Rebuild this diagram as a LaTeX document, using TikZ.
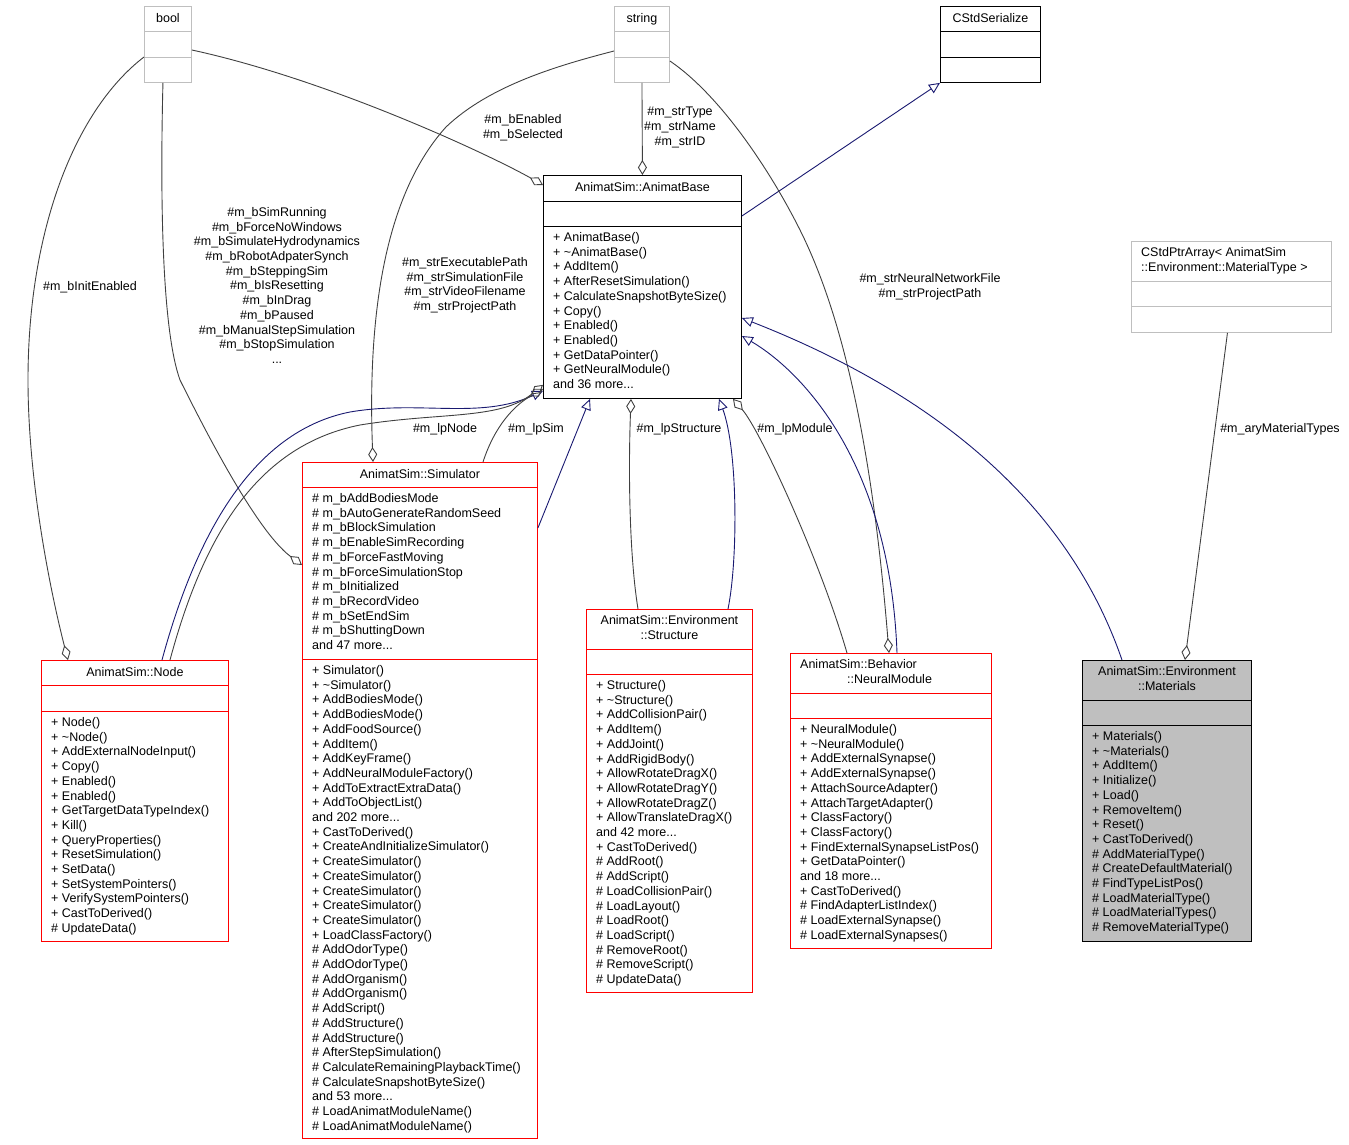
\documentclass[tikz,border=0pt]{standalone}
\usepackage{fontspec}
\newfontfamily\umlfont{Liberation Sans}
\usetikzlibrary{arrows.meta, positioning}
\definecolor{edgegray}{HTML}{404040}
\definecolor{edgeblue}{HTML}{191970}
\definecolor{boxgray}{HTML}{BFBFBF}
\definecolor{boxred}{HTML}{FF0000}
\tikzset{
  classbox/.style={draw=#1, line width=0.9pt, anchor=north west, inner sep=0pt},
  classtext/.style={inner sep=0pt, font=\umlfont\fontsize{12.5}{14.7}\selectfont, execute at begin node=\strut},
  classtitle/.style={classtext, anchor=north, align=center},
  members/.style={classtext, anchor=north west, align=left},
  edgelabel/.style={classtext, anchor=north, align=center},
  usage/.style={draw=edgegray, line width=0.9pt, {Diamond[open, length=15pt, width=9pt]}-},
  inherit/.style={draw=edgeblue, line width=0.9pt, {Triangle[open, length=11pt, width=10pt]}-}
}
\begin{document}
\begin{tikzpicture}[x=1pt, y=-1pt]
\useasboundingbox (0,0) rectangle (1349,1145);

\node (bool) [classbox=boxgray, minimum width=47pt, minimum height=76pt] at (144,6) {};
\node (string) [classbox=boxgray, minimum width=55pt, minimum height=76pt] at (614,6) {};
\node (serial) [classbox=black, minimum width=100pt, minimum height=76pt] at (940,6) {};
\node (base) [classbox=black, minimum width=198pt, minimum height=223pt] at (543,175) {};
\node (ptrarray) [classbox=boxgray, minimum width=200pt, minimum height=91pt] at (1131,241) {};
\node (node) [classbox=boxred, minimum width=187pt, minimum height=281pt] at (41,660) {};
\node (sim) [classbox=boxred, minimum width=235pt, minimum height=676pt] at (302,462) {};
\node (structure) [classbox=boxred, minimum width=166pt, minimum height=383pt] at (586,609) {};
\node (module) [classbox=boxred, minimum width=201pt, minimum height=295pt] at (790,653) {};
\node (materials) [classbox=black, fill=boxgray, minimum width=169pt, minimum height=281pt] at (1082,660) {};

\foreach \cls/\off/\boxcol in {bool/25/boxgray, bool/51/boxgray, string/25/boxgray, string/51/boxgray,
    serial/25/black, serial/51/black, base/26/black, base/51/black, ptrarray/40/boxgray, ptrarray/65/boxgray,
    node/25/boxred, node/51/boxred, sim/25/boxred, sim/197/boxred, structure/40/boxred, structure/65/boxred,
    module/40/boxred, module/65/boxred, materials/40/black, materials/65/black}
  \draw[\boxcol, line width=0.9pt] ([yshift=-\off*1pt]\cls.north west) -- ([yshift=-\off*1pt]\cls.north east);

\node (bool title) [classtitle] at ([yshift=-6.3pt]bool.north) {bool};
\node (string title) [classtitle] at ([yshift=-6.3pt]string.north) {string};
\node (serial title) [classtitle] at ([yshift=-6.3pt]serial.north) {CStdSerialize};
\node (base title) [classtitle] at ([yshift=-6.3pt]base.north) {AnimatSim::AnimatBase};
\node (ptrarray title) [members] at ([shift={(10pt,-6.3pt)}]ptrarray.north west) {CStdPtrArray< AnimatSim\\::Environment::MaterialType >};
\node (node title) [classtitle] at ([yshift=-6.3pt]node.north) {AnimatSim::Node};
\node (sim title) [classtitle] at ([yshift=-6.3pt]sim.north) {AnimatSim::Simulator};
\node (structure title) [classtitle] at ([yshift=-6.3pt]structure.north) {AnimatSim::Environment\\::Structure};
\node (module title) [members] at ([shift={(10pt,-6.3pt)}]module.north west) {AnimatSim::Behavior\\\hspace*{47pt}::NeuralModule};
\node (materials title) [classtitle] at ([yshift=-6.3pt]materials.north) {AnimatSim::Environment\\::Materials};

\node (base ops) [members] at ([shift={(10pt,-57.3pt)}]base.north west) {+ AnimatBase()\\+ \textasciitilde AnimatBase()\\+ AddItem()\\+ AfterResetSimulation()\\+ CalculateSnapshotByteSize()\\+ Copy()\\+ Enabled()\\+ Enabled()\\+ GetDataPointer()\\+ GetNeuralModule()\\and 36 more...};
\node (node ops) [members] at ([shift={(10pt,-57.3pt)}]node.north west) {+ Node()\\+ \textasciitilde Node()\\+ AddExternalNodeInput()\\+ Copy()\\+ Enabled()\\+ Enabled()\\+ GetTargetDataTypeIndex()\\+ Kill()\\+ QueryProperties()\\+ ResetSimulation()\\+ SetData()\\+ SetSystemPointers()\\+ VerifySystemPointers()\\+ CastToDerived()\\\# UpdateData()};
\node (sim attrs) [members] at ([shift={(10pt,-31.3pt)}]sim.north west) {\# m\_bAddBodiesMode\\\# m\_bAutoGenerateRandomSeed\\\# m\_bBlockSimulation\\\# m\_bEnableSimRecording\\\# m\_bForceFastMoving\\\# m\_bForceSimulationStop\\\# m\_bInitialized\\\# m\_bRecordVideo\\\# m\_bSetEndSim\\\# m\_bShuttingDown\\and 47 more...};
\node (sim ops) [members] at ([shift={(10pt,-203.3pt)}]sim.north west) {+ Simulator()\\+ \textasciitilde Simulator()\\+ AddBodiesMode()\\+ AddBodiesMode()\\+ AddFoodSource()\\+ AddItem()\\+ AddKeyFrame()\\+ AddNeuralModuleFactory()\\+ AddToExtractExtraData()\\+ AddToObjectList()\\and 202 more...\\+ CastToDerived()\\+ CreateAndInitializeSimulator()\\+ CreateSimulator()\\+ CreateSimulator()\\+ CreateSimulator()\\+ CreateSimulator()\\+ CreateSimulator()\\+ LoadClassFactory()\\\# AddOdorType()\\\# AddOdorType()\\\# AddOrganism()\\\# AddOrganism()\\\# AddScript()\\\# AddStructure()\\\# AddStructure()\\\# AfterStepSimulation()\\\# CalculateRemainingPlaybackTime()\\\# CalculateSnapshotByteSize()\\and 53 more...\\\# LoadAnimatModuleName()\\\# LoadAnimatModuleName()};
\node (structure ops) [members] at ([shift={(10pt,-71.3pt)}]structure.north west) {+ Structure()\\+ \textasciitilde Structure()\\+ AddCollisionPair()\\+ AddItem()\\+ AddJoint()\\+ AddRigidBody()\\+ AllowRotateDragX()\\+ AllowRotateDragY()\\+ AllowRotateDragZ()\\+ AllowTranslateDragX()\\and 42 more...\\+ CastToDerived()\\\# AddRoot()\\\# AddScript()\\\# LoadCollisionPair()\\\# LoadLayout()\\\# LoadRoot()\\\# LoadScript()\\\# RemoveRoot()\\\# RemoveScript()\\\# UpdateData()};
\node (module ops) [members] at ([shift={(10pt,-71.3pt)}]module.north west) {+ NeuralModule()\\+ \textasciitilde NeuralModule()\\+ AddExternalSynapse()\\+ AddExternalSynapse()\\+ AttachSourceAdapter()\\+ AttachTargetAdapter()\\+ ClassFactory()\\+ ClassFactory()\\+ FindExternalSynapseListPos()\\+ GetDataPointer()\\and 18 more...\\+ CastToDerived()\\\# FindAdapterListIndex()\\\# LoadExternalSynapse()\\\# LoadExternalSynapses()};
\node (materials ops) [members] at ([shift={(10pt,-71.3pt)}]materials.north west) {+ Materials()\\+ \textasciitilde Materials()\\+ AddItem()\\+ Initialize()\\+ Load()\\+ RemoveItem()\\+ Reset()\\+ CastToDerived()\\\# AddMaterialType()\\\# CreateDefaultMaterial()\\\# FindTypeListPos()\\\# LoadMaterialType()\\\# LoadMaterialTypes()\\\# RemoveMaterialType()};

\draw[usage] ([yshift=-10pt]base.north west) .. controls (490,155) and (330,80) .. ([yshift=-44pt]bool.north east);
\draw[usage] (base.north) -- (string.south);
\draw[inherit] (serial.south west) -- ([yshift=-41pt]base.north east);
\draw[usage] ([xshift=27pt]node.north west) .. controls (50,590) and (28,480) .. (28,380) .. controls (28,230) and (75,110) .. ([yshift=-51pt]bool.north west);
\draw[usage] ([yshift=-103pt]sim.north west) .. controls (255,530) and (200,420) .. (180,380) .. controls (162,330) and (160,200) .. ([xshift=-5pt]bool.south);
\draw[usage] ([xshift=71pt]sim.north west) .. controls (368,330) and (380,200) .. (446,127) .. controls (490,85) and (560,65) .. ([yshift=-45pt]string.north west);
\draw[usage] ([xshift=99pt]module.north west) .. controls (875,480) and (850,330) .. (800,230) .. controls (770,170) and (720,95) .. ([yshift=-55pt]string.north east);
\draw[usage] ([xshift=103pt]materials.north west) -- ([xshift=-4pt]ptrarray.south);
\draw[inherit] ([yshift=8pt]base.south west) .. controls (480,420) and (420,400) .. (350,412) .. controls (260,430) and (200,520) .. ([xshift=121pt]node.north west);
\draw[usage] ([yshift=14pt]base.south west) .. controls (500,420) and (440,412) .. (360,425) .. controls (260,445) and (205,530) .. ([xshift=129pt]node.north west);
\draw[usage] ([yshift=10pt]base.south west) .. controls (515,405) and (495,425) .. ([xshift=181pt]sim.north west);
\draw[inherit] ([xshift=47pt]base.south west) -- ([yshift=-66pt]sim.north east);
\draw[usage] ([xshift=88pt]base.south west) .. controls (628,480) and (630,560) .. ([xshift=52pt]structure.north west);
\draw[inherit] ([xshift=176pt]base.south west) .. controls (738,450) and (738,560) .. ([xshift=142pt]structure.north west);
\draw[usage] ([xshift=190pt]base.south west) .. controls (760,430) and (820,560) .. ([xshift=57pt]module.north west);
\draw[inherit] ([yshift=-161pt]base.north east) .. controls (800,370) and (890,460) .. ([xshift=107pt]module.north west);
\draw[inherit] ([yshift=-143pt]base.north east) .. controls (900,380) and (1060,480) .. ([xshift=40pt]materials.north west);

\node (lbl enabled) [edgelabel] at (523,114.2) {\#m\_bEnabled\\\#m\_bSelected};
\node (lbl strings) [edgelabel] at (680,107.2) {\#m\_strType\\\#m\_strName\\\#m\_strID};
\node (lbl init) [edgelabel] at (90,280.2) {\#m\_bInitEnabled};
\node (lbl flags) [edgelabel] at (277,207.2) {\#m\_bSimRunning\\\#m\_bForceNoWindows\\\#m\_bSimulateHydrodynamics\\\#m\_bRobotAdpaterSynch\\\#m\_bSteppingSim\\\#m\_bIsResetting\\\#m\_bInDrag\\\#m\_bPaused\\\#m\_bManualStepSimulation\\\#m\_bStopSimulation\\...};
\node (lbl paths) [edgelabel] at (465,257.2) {\#m\_strExecutablePath\\\#m\_strSimulationFile\\\#m\_strVideoFilename\\\#m\_strProjectPath};
\node (lbl nnfile) [edgelabel] at (930,273.2) {\#m\_strNeuralNetworkFile\\\#m\_strProjectPath};
\node (lbl mattypes) [edgelabel] at (1280,422.2) {\#m\_aryMaterialTypes};
\node (lbl lpnode) [edgelabel] at (445,422.2) {\#m\_lpNode};
\node (lbl lpsim) [edgelabel] at (536,422.2) {\#m\_lpSim};
\node (lbl lpstruct) [edgelabel] at (679,422.2) {\#m\_lpStructure};
\node (lbl lpmodule) [edgelabel] at (795,422.2) {\#m\_lpModule};
\end{tikzpicture}
\end{document}
